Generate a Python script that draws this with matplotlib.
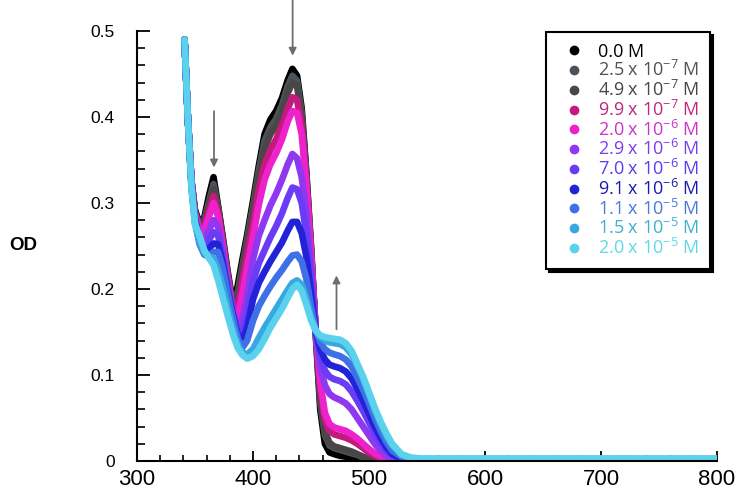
import matplotlib
matplotlib.use("Agg")
import matplotlib.pyplot as plt
from matplotlib.ticker import MultipleLocator, FuncFormatter
from matplotlib.lines import Line2D

plt.rcParams['font.family'] = ['Liberation Sans', 'DejaVu Sans']
plt.rcParams['mathtext.default'] = 'regular'

# wavelength grid (nm)
wl = [341, 344, 347, 350, 354, 358, 362, 366, 370, 374, 378, 383, 387, 391, 395, 400,
      405, 410, 415, 420, 425, 430, 434, 438, 442, 446, 450, 454, 458, 462, 466, 470,
      475, 480, 485, 490, 495, 500, 505, 510, 515, 520, 528, 536, 545, 560, 800]

od_0 = [0.490, 0.395, 0.325, 0.292, 0.276, 0.283, 0.308, 0.330, 0.296, 0.260, 0.222, 0.180, 0.205, 0.235, 0.263, 0.302,
        0.343, 0.380, 0.397, 0.407, 0.422, 0.443, 0.456, 0.448, 0.410, 0.335, 0.250, 0.150, 0.060, 0.020, 0.010, 0.008,
        0.006, 0.005, 0.004, 0.003, 0.002, 0.001, 0.001, 0.001, 0.001, 0.001, 0.001, 0.001, 0.001, 0.001, 0.001]
od_1 = [0.490, 0.395, 0.325, 0.290, 0.274, 0.280, 0.301, 0.322, 0.294, 0.257, 0.219, 0.178, 0.197, 0.228, 0.258, 0.296,
        0.337, 0.372, 0.388, 0.398, 0.414, 0.436, 0.448, 0.442, 0.405, 0.332, 0.248, 0.152, 0.068, 0.030, 0.018, 0.015,
        0.013, 0.011, 0.009, 0.007, 0.004, 0.002, 0.001, 0.001, 0.001, 0.001, 0.001, 0.001, 0.001, 0.001, 0.001]
od_2 = [0.490, 0.395, 0.325, 0.289, 0.272, 0.276, 0.296, 0.316, 0.292, 0.255, 0.217, 0.176, 0.190, 0.222, 0.253, 0.290,
        0.330, 0.363, 0.380, 0.390, 0.406, 0.428, 0.440, 0.436, 0.400, 0.330, 0.246, 0.153, 0.074, 0.034, 0.021, 0.017,
        0.015, 0.013, 0.011, 0.008, 0.005, 0.003, 0.002, 0.001, 0.001, 0.001, 0.001, 0.001, 0.001, 0.001, 0.001]
od_3 = [0.490, 0.395, 0.325, 0.288, 0.270, 0.272, 0.290, 0.308, 0.288, 0.252, 0.215, 0.174, 0.180, 0.210, 0.240, 0.275,
        0.315, 0.345, 0.362, 0.374, 0.390, 0.410, 0.423, 0.420, 0.390, 0.325, 0.243, 0.153, 0.085, 0.047, 0.035, 0.031,
        0.029, 0.027, 0.024, 0.020, 0.015, 0.010, 0.006, 0.004, 0.002, 0.001, 0.001, 0.001, 0.001, 0.001, 0.001]
od_4 = [0.490, 0.395, 0.325, 0.287, 0.268, 0.268, 0.284, 0.300, 0.284, 0.250, 0.213, 0.172, 0.168, 0.195, 0.225, 0.260,
        0.298, 0.327, 0.345, 0.358, 0.374, 0.395, 0.407, 0.405, 0.380, 0.320, 0.240, 0.153, 0.092, 0.056, 0.043, 0.039,
        0.037, 0.035, 0.031, 0.026, 0.020, 0.014, 0.009, 0.005, 0.003, 0.001, 0.001, 0.001, 0.001, 0.001, 0.001]
od_5 = [0.490, 0.395, 0.323, 0.284, 0.262, 0.258, 0.268, 0.280, 0.272, 0.242, 0.208, 0.172, 0.155, 0.165, 0.192, 0.235,
        0.262, 0.280, 0.297, 0.311, 0.327, 0.345, 0.357, 0.352, 0.330, 0.290, 0.225, 0.152, 0.110, 0.088, 0.078, 0.074,
        0.071, 0.067, 0.060, 0.050, 0.040, 0.030, 0.020, 0.012, 0.006, 0.003, 0.001, 0.001, 0.001, 0.001, 0.001]
od_6 = [0.490, 0.395, 0.322, 0.282, 0.258, 0.251, 0.257, 0.266, 0.262, 0.236, 0.204, 0.170, 0.150, 0.148, 0.172, 0.208,
        0.230, 0.245, 0.260, 0.273, 0.288, 0.306, 0.318, 0.316, 0.300, 0.265, 0.212, 0.152, 0.122, 0.105, 0.098, 0.095,
        0.093, 0.089, 0.081, 0.070, 0.058, 0.045, 0.032, 0.021, 0.012, 0.006, 0.002, 0.001, 0.001, 0.001, 0.001]
od_7 = [0.490, 0.395, 0.321, 0.280, 0.255, 0.245, 0.247, 0.253, 0.252, 0.230, 0.200, 0.168, 0.146, 0.140, 0.155, 0.188,
        0.207, 0.220, 0.232, 0.243, 0.254, 0.268, 0.278, 0.278, 0.265, 0.238, 0.196, 0.152, 0.130, 0.118, 0.112, 0.110,
        0.108, 0.104, 0.096, 0.084, 0.070, 0.055, 0.040, 0.027, 0.016, 0.008, 0.003, 0.001, 0.001, 0.001, 0.001]
od_8 = [0.490, 0.395, 0.320, 0.278, 0.252, 0.240, 0.238, 0.243, 0.243, 0.224, 0.196, 0.164, 0.142, 0.132, 0.140, 0.163,
        0.180, 0.192, 0.203, 0.213, 0.222, 0.232, 0.239, 0.240, 0.232, 0.212, 0.180, 0.152, 0.138, 0.130, 0.126, 0.124,
        0.122, 0.118, 0.110, 0.097, 0.083, 0.067, 0.050, 0.035, 0.022, 0.012, 0.005, 0.002, 0.001, 0.001, 0.001]
od_9 = [0.490, 0.395, 0.318, 0.276, 0.255, 0.242, 0.238, 0.236, 0.222, 0.202, 0.180, 0.153, 0.135, 0.126, 0.124, 0.130,
        0.143, 0.155, 0.166, 0.177, 0.188, 0.199, 0.207, 0.210, 0.205, 0.190, 0.168, 0.152, 0.144, 0.140, 0.138, 0.137,
        0.136, 0.132, 0.124, 0.110, 0.095, 0.077, 0.059, 0.043, 0.029, 0.018, 0.007, 0.003, 0.002, 0.002, 0.002]
od_10 = [0.490, 0.395, 0.318, 0.275, 0.262, 0.245, 0.236, 0.228, 0.210, 0.190, 0.170, 0.146, 0.131, 0.123, 0.119, 0.122,
         0.130, 0.142, 0.155, 0.166, 0.177, 0.190, 0.200, 0.205, 0.198, 0.182, 0.164, 0.152, 0.146, 0.144, 0.143, 0.142,
         0.141, 0.137, 0.128, 0.113, 0.098, 0.080, 0.062, 0.046, 0.032, 0.020, 0.008, 0.004, 0.003, 0.003, 0.003]

spectra = [od_0, od_1, od_2, od_3, od_4, od_5, od_6, od_7, od_8, od_9, od_10]

labels = ['0.0 M', '2.5 x 10$^{-7}$ M', '4.9 x 10$^{-7}$ M', '9.9 x 10$^{-7}$ M',
          '2.0 x 10$^{-6}$ M', '2.9 x 10$^{-6}$ M', '7.0 x 10$^{-6}$ M', '9.1 x 10$^{-6}$ M',
          '1.1 x 10$^{-5}$ M', '1.5 x 10$^{-5}$ M', '2.0 x 10$^{-5}$ M']
colors = ['#000000', '#4c535a', '#4a4546', '#c41a7f', '#ee22cc', '#9038f0',
          '#6a3cf5', '#2222d8', '#3f70e8', '#38a8e0', '#5ad2ee']
text_colors = ['#000000', '#4c535a', '#4a4546', '#c0267d', '#cc33cc', '#7a3cf0',
               '#5a3cf0', '#1a1ab0', '#4a78e0', '#40b0d0', '#60d8e8']

fig = plt.figure(figsize=(7.38, 4.96), dpi=100)
ax = fig.add_axes([0.1856, 0.0706, 0.7859, 0.8669])

for i in range(len(spectra)):
    ax.plot(wl, spectra[i], color=colors[i], lw=4.8, solid_capstyle='round',
            solid_joinstyle='round')

ax.set_xlim(300, 800)
ax.set_ylim(0, 0.5)
ax.spines['top'].set_visible(False)
ax.spines['right'].set_visible(False)
ax.spines['left'].set_linewidth(1.5)
ax.spines['bottom'].set_linewidth(1.5)

ax.xaxis.set_major_locator(MultipleLocator(100))
ax.xaxis.set_minor_locator(MultipleLocator(20))
ax.yaxis.set_major_locator(MultipleLocator(0.1))
ax.yaxis.set_minor_locator(MultipleLocator(0.02))
ax.yaxis.set_major_formatter(FuncFormatter(lambda v, p: '0' if abs(v) < 1e-9 else '%.1f' % v))

ax.tick_params(axis='x', which='major', direction='in', length=7, width=1.3, pad=6)
ax.tick_params(axis='x', which='minor', direction='in', length=4, width=1.2)
ax.tick_params(axis='y', which='major', direction='in', length=9, width=1.3, pad=16)
ax.tick_params(axis='y', which='minor', direction='in', length=6, width=1.2)
for t in ax.get_xticklabels():
    t.set_fontsize(16)
for t in ax.get_yticklabels():
    t.set_fontsize(12.5)

fig.text(0.032, 0.505, 'OD', fontsize=13.5, fontweight='bold', ha='center', va='center')

# arrows showing spectral change
arr = dict(arrowstyle='-|>', color='#6e6e6e', lw=1.3, mutation_scale=11)
ax.annotate('', xy=(366.4, 0.338), xytext=(366.4, 0.41), arrowprops=arr, annotation_clip=False)
ax.annotate('', xy=(434.2, 0.468), xytext=(434.2, 0.54), arrowprops=arr, annotation_clip=False)
ax.annotate('', xy=(472.0, 0.219), xytext=(472.0, 0.15), arrowprops=arr, annotation_clip=False)

handles = [Line2D([], [], ls='none', marker='o', ms=6, color=c) for c in colors]
leg = ax.legend(handles, labels, loc='upper right', bbox_to_anchor=(0.988, 0.998),
                borderaxespad=0, frameon=True, fancybox=False,
                shadow={'color': 'black', 'alpha': 1},
                labelspacing=-0.02, handletextpad=0.4, handlelength=1.9,
                borderpad=0.6, prop={'family': ['Open Sans', 'DejaVu Sans'], 'size': 13})
leg.get_frame().set_edgecolor('black')
leg.get_frame().set_linewidth(1.5)
for t, c in zip(leg.get_texts(), text_colors):
    t.set_color(c)

fig.savefig('out.png', dpi=100)
